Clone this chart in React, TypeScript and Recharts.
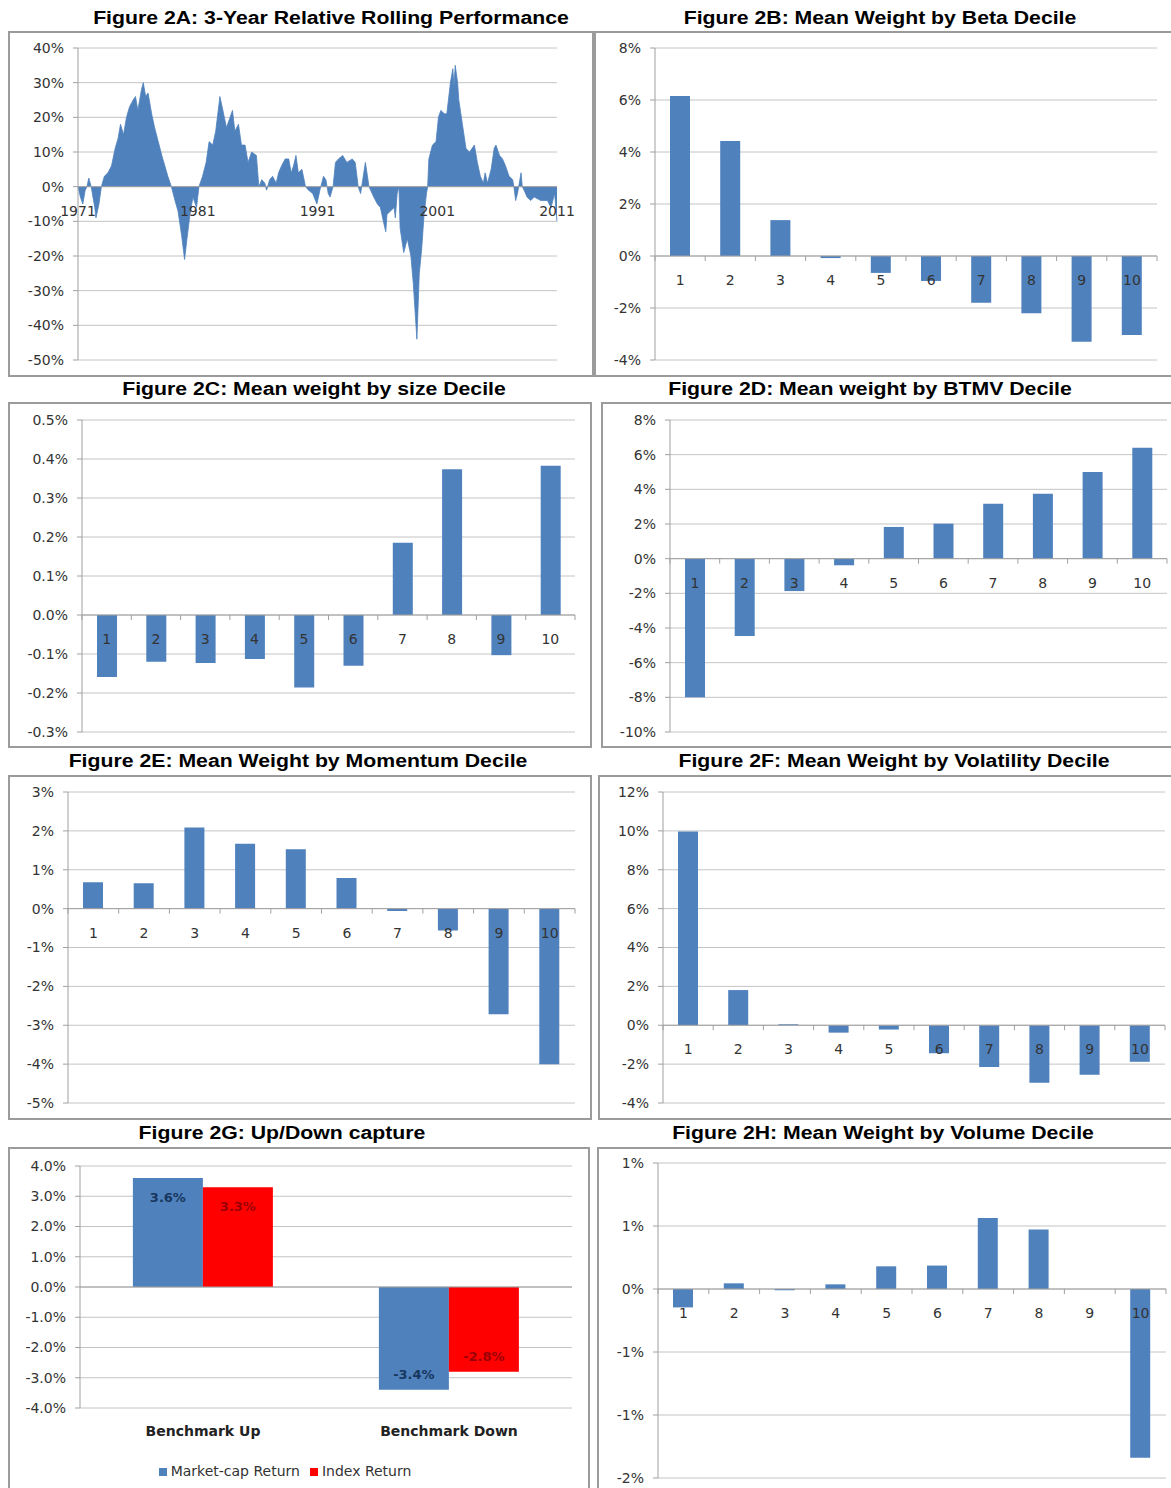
import React from 'react';
import { AreaChart, Area, BarChart, Bar, XAxis, YAxis, CartesianGrid, ReferenceLine, LabelList, Legend } from 'recharts';

const BLUE = '#4F81BD';
const RED = '#FF0000';
const GRID = '#c4c4c4';
const AXIS = '#a0a0a0';
const TICK_FONT = '"DejaVu Sans", sans-serif';

// Figure 2A: 3-year relative rolling performance, %
const rollYears = [
  1971.0, 1971.2, 1971.4, 1971.6, 1971.75, 1971.9, 1972.1, 1972.4, 1972.5, 1972.75, 1972.95,
  1973.2, 1973.5, 1973.8, 1974.1, 1974.35, 1974.55, 1974.8, 1975.05, 1975.3, 1975.6, 1975.8,
  1976.0, 1976.3, 1976.45, 1976.65, 1976.85, 1977.15, 1977.4, 1977.7, 1978.0, 1978.25, 1978.5,
  1978.8, 1979.1, 1979.35, 1979.65, 1979.9, 1980.1, 1980.35, 1980.6, 1980.9, 1981.1, 1981.4,
  1981.7, 1981.95, 1982.25, 1982.5, 1982.85, 1983.1, 1983.4, 1983.7, 1983.9, 1984.1, 1984.4,
  1984.65, 1984.95, 1985.2, 1985.5, 1985.9, 1986.1, 1986.35, 1986.6, 1986.75, 1987.0, 1987.25,
  1987.55, 1987.75, 1988.0, 1988.3, 1988.6, 1988.8, 1989.0, 1989.2, 1989.4, 1989.7, 1990.0,
  1990.25, 1990.6, 1990.95, 1991.2, 1991.5, 1991.7, 1991.9, 1992.05, 1992.3, 1992.5, 1992.75,
  1993.1, 1993.45, 1993.9, 1994.15, 1994.4, 1994.6, 1995.0, 1995.3, 1995.7, 1996.0, 1996.25,
  1996.5, 1996.7, 1996.8, 1997.1, 1997.4, 1997.5, 1997.65, 1997.8, 1997.9, 1998.2, 1998.5,
  1998.8, 1999.0, 1999.3, 1999.5, 1999.7, 1999.9, 2000.1, 2000.2, 2000.3, 2000.6, 2000.9,
  2001.1, 2001.3, 2001.6, 2001.8, 2002.1, 2002.3, 2002.4, 2002.5, 2002.7, 2002.8, 2003.1,
  2003.4, 2003.7, 2003.9, 2004.1, 2004.35, 2004.6, 2004.85, 2005.0, 2005.2, 2005.5, 2005.75,
  2005.9, 2006.2, 2006.45, 2006.7, 2007.0, 2007.3, 2007.4, 2007.55, 2007.7, 2008.0, 2008.1,
  2008.25, 2008.5, 2008.8, 2009.1, 2009.65, 2010.2, 2010.5, 2010.8, 2011.0,
];
const rollPerf = [
  0, -3, -5, -1, 0, 2.5, 0, -6, -9, -5, 0,
  3, 4, 6, 11, 14, 18, 15, 20, 23, 25, 26,
  22, 28, 30, 26, 27, 21, 17, 13, 9, 6, 3,
  0, -4, -7, -14, -21, -15, -8, -3, -6, 0, 3,
  7, 13, 12, 16, 26, 22, 17, 20, 22, 16, 18,
  12, 12, 7, 10, 9, 0, 2, 1, -1, 2, 3,
  1, 4, 6, 8, 8, 4, 6, 9, 4, 5, 0,
  -1, -2, -5, -1, 3, 2, -2, -3, 0, 7, 8,
  9, 7, 8, 7, 0, -2, 7, 0, -3, -5, -6,
  -10, -13, -8, -7, -6, -9, -2, 0, -12, -19, -15,
  -20, -28, -44, -25, -18, -8, -2, 0, 8, 12, 13,
  20, 22, 21, 21, 30, 34, 29, 35, 30, 25, 18,
  11, 10, 11, 12, 7, 3, 1, 4, 1, 5, 11,
  12, 9, 8, 6, 3, 2, 0, -4, -2, 4, 0,
  -1, -3, -4, -3, -4, -4, -6, -2, -10,
];
const rollTicksX = [1971, 1981, 1991, 2001, 2011];
const rollTicksY = [-50, -40, -30, -20, -10, 0, 10, 20, 30, 40];

// Figures 2B-2F, 2H: mean weight by decile, %
const deciles = ['1', '2', '3', '4', '5', '6', '7', '8', '9', '10'];
const betaWeights = [6.15, 4.42, 1.38, -0.08, -0.65, -0.96, -1.8, -2.2, -3.3, -3.04];
const sizeWeights = [-0.159, -0.12, -0.123, -0.113, -0.186, -0.13, 0.185, 0.374, -0.103, 0.383];
const btmvWeights = [-8.0, -4.46, -1.87, -0.38, 1.83, 2.02, 3.17, 3.75, 5.0, 6.4];
const momentumWeights = [0.68, 0.65, 2.09, 1.67, 1.53, 0.79, -0.06, -0.56, -2.72, -4.0];
const volatilityWeights = [9.97, 1.81, 0.05, -0.38, -0.22, -1.44, -2.15, -2.96, -2.55, -1.88];
const volumeWeights = [-0.146, 0.045, -0.01, 0.037, 0.18, 0.186, 0.564, 0.473, 0, -1.34];

const betaTicks = [-4, -2, 0, 2, 4, 6, 8];
const sizeTicks = [-0.3, -0.2, -0.1, 0, 0.1, 0.2, 0.3, 0.4, 0.5];
const btmvTicks = [-10, -8, -6, -4, -2, 0, 2, 4, 6, 8];
const momentumTicks = [-5, -4, -3, -2, -1, 0, 1, 2, 3];
const volatilityTicks = [-4, -2, 0, 2, 4, 6, 8, 10, 12];
const volumeTicks = [-1.5, -1, -0.5, 0, 0.5, 1];

// Figure 2G: up/down capture, %
const captureCats = ['Benchmark Up', 'Benchmark Down'];
const marketCapReturn = [3.6, -3.4];
const indexReturn = [3.3, -2.8];
const captureTicks = [-4, -3, -2, -1, 0, 1, 2, 3, 4];
const captureSeries = ['Market-cap Return', 'Index Return'];

type Box = { x: number; y: number; w: number; h: number };
type Plot = { l: number; t: number; r: number; b: number };

const pct0 = (v: number) => `${v}%`;
const pct1 = (v: number) => `${v.toFixed(1)}%`;
const pctRound = (v: number) => `${v < 0 ? '-' : ''}${Math.round(Math.abs(v))}%`;

const marginsFor = (box: Box, plot: Plot, xAxisH: number) => ({
  top: plot.t - box.y,
  right: box.x + box.w - plot.r,
  bottom: box.y + box.h - plot.b - xAxisH,
  left: 0,
});

const yTick = { fill: '#333', fontSize: 14, fontFamily: TICK_FONT };

const Frame = ({ title, tx, ty, box, children }: any) => (
  <>
    <div
      style={{
        position: 'absolute',
        left: tx,
        top: ty,
        transform: 'translate(-50%, -50%) scaleX(1.18)',
        font: 'bold 18px "Liberation Sans", Arial, sans-serif',
        whiteSpace: 'nowrap',
        color: '#000',
      }}
    >
      {title}
    </div>
    <div
      style={{
        position: 'absolute',
        left: box.x,
        top: box.y,
        width: box.w,
        height: box.h,
        border: '2px solid #9b9b9b',
        boxSizing: 'border-box',
      }}
    />
    <div style={{ position: 'absolute', left: box.x, top: box.y }}>{children}</div>
  </>
);

// category label drawn just under the zero line, with Excel-style tick marks between categories
const ZeroTick = (props: any) => {
  const { x, payload, zeroY, band, lastValue } = props;
  return (
    <g>
      {band > 0 && <line x1={x - band / 2} x2={x - band / 2} y1={zeroY} y2={zeroY + 5} stroke={AXIS} />}
      {band > 0 && payload.value === lastValue && (
        <line x1={x + band / 2} x2={x + band / 2} y1={zeroY} y2={zeroY + 5} stroke={AXIS} />
      )}
      <text x={x} y={zeroY + 24} textAnchor="middle" dominantBaseline="central" fill="#333" fontSize={14} fontFamily={TICK_FONT}>
        {payload.value}
      </text>
    </g>
  );
};

// "inside end" data label like Excel: just inside the far end of the bar
const makeEndLabel = (color: string) => (props: any) => {
  const { x, y, width, height, value } = props;
  const v = Number(value);
  const cx = x + width / 2;
  const top = Math.min(y, y + height);
  const bottom = Math.max(y, y + height);
  const cy = v >= 0 ? top + 19 : bottom - 15;
  return (
    <text x={cx} y={cy} textAnchor="middle" dominantBaseline="central" fill={color} fontSize={13} fontWeight="bold" fontFamily={TICK_FONT}>
      {`${v.toFixed(1)}%`}
    </text>
  );
};

const DecilePanel = ({ title, tx, ty, box, plot, values, domain, ticks, fmt }: any) => {
  const data = deciles.map((d, i) => ({ name: d, value: values[i] }));
  const m = marginsFor(box, plot, 1);
  const zeroY = m.top + ((plot.b - plot.t) * domain[1]) / (domain[1] - domain[0]);
  const band = (plot.r - plot.l) / deciles.length;
  return (
    <Frame title={title} tx={tx} ty={ty} box={box}>
      <BarChart width={box.w} height={box.h} data={data} margin={m}>
        <CartesianGrid vertical={false} stroke={GRID} />
        <YAxis
          type="number"
          domain={domain}
          ticks={ticks}
          interval={0}
          allowDataOverflow
          width={plot.l - box.x}
          tickFormatter={fmt}
          axisLine={{ stroke: AXIS }}
          tickLine={{ stroke: AXIS }}
          tickSize={5}
          tickMargin={9}
          tick={yTick}
        />
        <ReferenceLine y={0} stroke={AXIS} />
        <Bar dataKey="value" fill={BLUE} barSize={20} isAnimationActive={false} />
        <XAxis
          dataKey="name"
          height={1}
          axisLine={false}
          tickLine={false}
          interval={0}
          tick={(p: any) => <ZeroTick {...p} zeroY={zeroY} band={band} lastValue="10" />}
        />
      </BarChart>
    </Frame>
  );
};

const RollingPanel = () => {
  const box = { x: 8, y: 31, w: 586, h: 346 };
  const plot = { l: 78, t: 48, r: 557, b: 360 };
  const domain = [-50, 40];
  const data = rollYears.map((y, i) => ({ year: y, perf: rollPerf[i] }));
  const m = marginsFor(box, plot, 1);
  const zeroY = m.top + ((plot.b - plot.t) * domain[1]) / (domain[1] - domain[0]);
  return (
    <Frame title="Figure 2A: 3-Year Relative Rolling Performance" tx={331} ty={18} box={box}>
      <AreaChart width={box.w} height={box.h} data={data} margin={m}>
        <CartesianGrid vertical={false} stroke={GRID} />
        <YAxis
          type="number"
          domain={domain}
          ticks={rollTicksY}
          interval={0}
          allowDataOverflow
          width={plot.l - box.x}
          tickFormatter={pct0}
          axisLine={{ stroke: AXIS }}
          tickLine={{ stroke: AXIS }}
          tickSize={5}
          tickMargin={9}
          tick={yTick}
        />
        <ReferenceLine y={0} stroke={AXIS} />
        <Area
          type="linear"
          dataKey="perf"
          stroke={BLUE}
          strokeWidth={0.8}
          fill={BLUE}
          fillOpacity={1}
          dot={false}
          activeDot={false}
          isAnimationActive={false}
        />
        <XAxis
          dataKey="year"
          type="number"
          domain={[1971, 2011]}
          ticks={rollTicksX}
          interval={0}
          height={1}
          axisLine={false}
          tickLine={false}
          tick={(p: any) => <ZeroTick {...p} zeroY={zeroY} band={0} />}
        />
      </AreaChart>
    </Frame>
  );
};

const CapturePanel = () => {
  const box = { x: 8, y: 1147, w: 582, h: 345 };
  const plot = { l: 80, t: 1166, r: 572, b: 1408 };
  const data = captureCats.map((c, i) => ({ name: c, mcap: marketCapReturn[i], idx: indexReturn[i] }));
  const legendH = 22;
  const xAxisH = 55;
  const m = marginsFor(box, plot, xAxisH + legendH);
  return (
    <Frame title="Figure 2G: Up/Down capture" tx={282} ty={1133} box={box}>
      <BarChart width={box.w} height={box.h} data={data} margin={m} barGap={0} barCategoryGap="21.5%">
        <CartesianGrid vertical={false} stroke={GRID} />
        <YAxis
          type="number"
          domain={[-4, 4]}
          ticks={captureTicks}
          interval={0}
          allowDataOverflow
          width={plot.l - box.x}
          tickFormatter={pct1}
          axisLine={{ stroke: AXIS }}
          tickLine={{ stroke: AXIS }}
          tickSize={5}
          tickMargin={9}
          tick={yTick}
        />
        <ReferenceLine y={0} stroke={AXIS} />
        <Bar dataKey="mcap" name={captureSeries[0]} fill={BLUE} isAnimationActive={false}>
          <LabelList dataKey="mcap" content={makeEndLabel('#17375E')} />
        </Bar>
        <Bar dataKey="idx" name={captureSeries[1]} fill={RED} isAnimationActive={false}>
          <LabelList dataKey="idx" content={makeEndLabel('#9C0006')} />
        </Bar>
        <XAxis
          dataKey="name"
          height={xAxisH}
          axisLine={false}
          tickLine={false}
          tickMargin={12}
          interval={0}
          tick={{ fill: '#222', fontSize: 14, fontWeight: 'bold', fontFamily: TICK_FONT }}
        />
        <Legend
          verticalAlign="bottom"
          align="center"
          iconType="square"
          iconSize={8}
          height={legendH}
          itemSorter={(item: any) => captureSeries.indexOf(item.value)}
          wrapperStyle={{ fontFamily: TICK_FONT, fontSize: 14 }}
          formatter={(value: any) => <span style={{ color: '#333' }}>{value}</span>}
        />
      </BarChart>
    </Frame>
  );
};

export default function App() {
  return (
    <div
      style={{
        position: 'absolute',
        left: 0,
        top: 0,
        width: 1171,
        height: 1488,
        overflow: 'hidden',
        background: '#fff',
      }}
    >
      <RollingPanel />
      <DecilePanel
        title="Figure 2B: Mean Weight by Beta Decile"
        tx={880}
        ty={18}
        box={{ x: 594, y: 31, w: 580, h: 346 }}
        plot={{ l: 655, t: 48, r: 1157, b: 360 }}
        values={betaWeights}
        domain={[-4, 8]}
        ticks={betaTicks}
        fmt={pct0}
      />
      <DecilePanel
        title="Figure 2C: Mean weight by size Decile"
        tx={314}
        ty={389}
        box={{ x: 8, y: 402, w: 584, h: 346 }}
        plot={{ l: 82, t: 420, r: 575, b: 732 }}
        values={sizeWeights}
        domain={[-0.3, 0.5]}
        ticks={sizeTicks}
        fmt={pct1}
      />
      <DecilePanel
        title="Figure 2D: Mean weight by BTMV Decile"
        tx={870}
        ty={389}
        box={{ x: 601, y: 402, w: 573, h: 346 }}
        plot={{ l: 670, t: 420, r: 1167, b: 732 }}
        values={btmvWeights}
        domain={[-10, 8]}
        ticks={btmvTicks}
        fmt={pct0}
      />
      <DecilePanel
        title="Figure 2E: Mean Weight by Momentum Decile"
        tx={298}
        ty={761}
        box={{ x: 8, y: 775, w: 584, h: 345 }}
        plot={{ l: 68, t: 792, r: 575, b: 1103 }}
        values={momentumWeights}
        domain={[-5, 3]}
        ticks={momentumTicks}
        fmt={pct0}
      />
      <DecilePanel
        title="Figure 2F: Mean Weight by Volatility Decile"
        tx={894}
        ty={761}
        box={{ x: 598, y: 775, w: 576, h: 345 }}
        plot={{ l: 663, t: 792, r: 1165, b: 1103 }}
        values={volatilityWeights}
        domain={[-4, 12]}
        ticks={volatilityTicks}
        fmt={pct0}
      />
      <CapturePanel />
      <DecilePanel
        title="Figure 2H: Mean Weight by Volume Decile"
        tx={883}
        ty={1133}
        box={{ x: 597, y: 1147, w: 577, h: 345 }}
        plot={{ l: 658, t: 1163, r: 1166, b: 1478 }}
        values={volumeWeights}
        domain={[-1.5, 1]}
        ticks={volumeTicks}
        fmt={pctRound}
      />
    </div>
  );
}
